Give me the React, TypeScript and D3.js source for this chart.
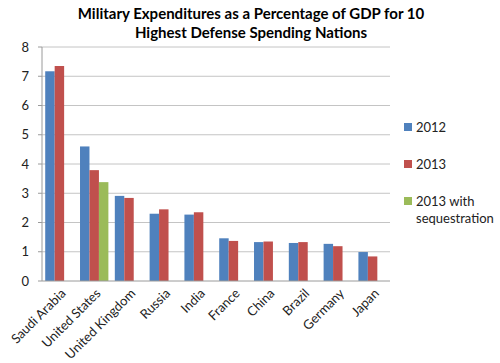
import * as React from 'react';
import * as d3 from 'd3';

const countries = ['Saudi Arabia', 'United States', 'United Kingdom', 'Russia', 'India', 'France', 'China', 'Brazil', 'Germany', 'Japan'];
const y2012 = [7.17, 4.6, 2.91, 2.3, 2.27, 1.46, 1.33, 1.3, 1.27, 0.99];
const y2013 = [7.35, 3.79, 2.84, 2.45, 2.35, 1.37, 1.35, 1.33, 1.19, 0.84];
const y2013Seq = [null, 3.38, null, null, null, null, null, null, null, null];
const seriesNames = ['2012', '2013', '2013 with sequestration'];
const colors = ['#4f81bd', '#c0504d', '#9bbb59'];
const yTicks = [0, 1, 2, 3, 4, 5, 6, 7, 8];

const font = 'Lato, "Open Sans", sans-serif';

export default function App() {
  const width = 500, height = 363;
  const margin = { top: 47, right: 110, bottom: 82, left: 42 };
  const innerW = width - margin.left - margin.right;
  const innerH = height - margin.top - margin.bottom;

  const x = d3.scaleBand().domain(countries).range([0, innerW]);
  const inner = d3.scaleBand().domain(['0', '1', '2']).range([0, x.bandwidth()]).paddingOuter(0.34);
  const y = d3.scaleLinear().domain([0, 8]).range([innerH, 0]);

  const series = [y2012, y2013, y2013Seq];

  return (
    <svg width={width} height={height} style={{ position: 'absolute', left: 0, top: 0, background: '#fff' }}>
      <text x={251} y={19} textAnchor="middle" fontFamily={font} fontWeight="bold" fontSize={15} fill="#000">
        Military Expenditures as a Percentage of GDP for 10
      </text>
      <text x={251} y={38} textAnchor="middle" fontFamily={font} fontWeight="bold" fontSize={15} fill="#000">
        Highest Defense Spending Nations
      </text>
      <g transform={`translate(${margin.left},${margin.top})`}>
        {yTicks.map(t => (
          <g key={t}>
            {t > 0 && <line x1={0} x2={innerW} y1={y(t)} y2={y(t)} stroke="#c4c4c4" strokeWidth={1} />}
            <line x1={-4} x2={0} y1={y(t)} y2={y(t)} stroke="#9a9a9a" />
            <text x={-13} y={y(t)} dy="0.35em" textAnchor="end" fontFamily={font} fontSize={13} fill="#222">
              {t}
            </text>
          </g>
        ))}
        {series.map((vals, si) =>
          vals.map((v, ci) =>
            v == null ? null : (
              <rect
                key={`${si}-${ci}`}
                x={(x(countries[ci]) ?? 0) + (inner(String(si)) ?? 0)}
                y={y(v)}
                width={inner.bandwidth()}
                height={innerH - y(v)}
                fill={colors[si]}
              />
            )
          )
        )}
        <line x1={0} x2={0} y1={0} y2={innerH} stroke="#9a9a9a" />
        <line x1={0} x2={innerW} y1={innerH} y2={innerH} stroke="#9a9a9a" />
        {countries.map(c => (
          <text
            key={c}
            transform={`translate(${(x(c) ?? 0) + x.bandwidth() / 2 + 4},${innerH + 10}) rotate(-45)`}
            textAnchor="end"
            dy="0.35em"
            fontFamily={font}
            fontSize={13}
            fill="#222"
          >
            {c}
          </text>
        ))}
      </g>
      <g fontFamily={font} fontSize={13} fill="#222">
        {seriesNames.map((name, i) => {
          const ly = 127 + i * 37;
          const lines = name === '2013 with sequestration' ? ['2013 with', 'sequestration'] : [name];
          return (
            <g key={name}>
              <rect x={404} y={ly - 4} width={8} height={8} fill={colors[i]} />
              {lines.map((l, k) => (
                <text key={l} x={416} y={ly + k * 17} dy="0.35em">
                  {l}
                </text>
              ))}
            </g>
          );
        })}
      </g>
    </svg>
  );
}
